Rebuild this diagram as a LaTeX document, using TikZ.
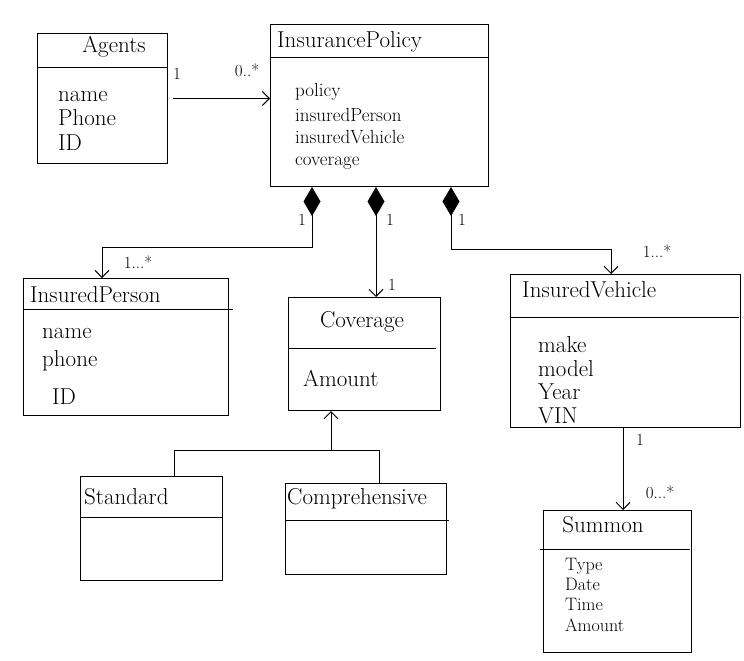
\documentclass[tikz,border=0pt]{standalone}
\usetikzlibrary{arrows.meta,calc}
\begin{document}
\begin{tikzpicture}[x=1pt,y=-1pt,
  box/.style={draw,line width=1pt,rectangle,anchor=north west,inner sep=0pt},
  title/.style={font=\fontsize{23}{26}\selectfont,inner sep=0pt},
  attr/.style={font=\fontsize{23}{26}\selectfont,anchor=base west,inner sep=0pt},
  pattr/.style={font=\fontsize{19}{22}\selectfont,anchor=base west,inner sep=0pt},
  sattr/.style={font=\fontsize{18}{20}\selectfont,anchor=base west,inner sep=0pt},
  mult/.style={font=\fontsize{17}{19}\selectfont,inner sep=0pt},
  conn/.style={line width=0.8pt},
  assoc/.style={conn,-{Straight Barb[length=7pt,width=14pt,line width=1pt]}},
  comp/.style={conn,{Diamond[length=29pt,width=17pt]}-{Straight Barb[length=7pt,width=14pt,line width=1pt]}}
]
\useasboundingbox (0,0) rectangle (744,661);

% boxes
\node[box,minimum width=130pt,minimum height=130pt] (agents) at (37,33) {};
\node[box,minimum width=218pt,minimum height=162pt] (policy) at (270,24) {};
\node[box,minimum width=205pt,minimum height=137pt] (person) at (23,278) {};
\node[box,minimum width=152pt,minimum height=113pt] (coverage) at (288,297) {};
\node[box,minimum width=230pt,minimum height=153pt] (vehicle) at (510,274) {};
\node[box,minimum width=142pt,minimum height=104pt] (standard) at (80,476) {};
\node[box,minimum width=161pt,minimum height=91pt] (compr) at (285,483) {};
\node[box,minimum width=148pt,minimum height=142pt] (summon) at (543,510) {};

% dividers
\draw[line width=1pt] (agents.west |- 0,68) -- (agents.east |- 0,68);
\draw[line width=1pt] (policy.west |- 0,58) -- (policy.east |- 0,58);
\draw[line width=1pt] (person.west |- 0,309) -- ([xshift=4pt]person.east |- 0,309);
\draw[line width=1pt] (coverage.west |- 0,348) -- ([xshift=-5pt]coverage.east |- 0,348);
\draw[line width=1pt] (vehicle.west |- 0,317) -- ([xshift=-2pt]vehicle.east |- 0,317);
\draw[line width=1pt] (standard.west |- 0,517) -- (standard.east |- 0,517);
\draw[line width=1pt] (compr.west |- 0,520) -- ([xshift=2pt]compr.east |- 0,520);
\draw[line width=1pt] ([xshift=-3pt]summon.west |- 0,549) -- ([xshift=-2pt]summon.east |- 0,549);

% titles
\node[title] (tAgents) at (114,47) {Agents};
\node[title,anchor=west] (tPolicy) at (277,42) {InsurancePolicy};
\node[title,anchor=west] (tPerson) at (30,295) {InsuredPerson};
\node[title] (tCoverage) at (362,322) {Coverage};
\node[title,anchor=west] (tVehicle) at (522,290) {InsuredVehicle};
\node[title,anchor=west] (tStandard) at (84,497) {Standard};
\node[title,anchor=west] (tCompr) at (287,499) {Comprehensive};
\node[title] (tSummon) at (603,525) {Summon};

% attributes
\node[attr] (a1) at (58,101) {name};
\node[attr] (a2) at (58,125) {Phone};
\node[attr] (a3) at (58,150) {ID};

\node[pattr] (p1) at (295,96) {policy};
\node[pattr] (p2) at (295,121) {insuredPerson};
\node[pattr] (p3) at (295,143) {insuredVehicle};
\node[pattr] (p4) at (295,165) {coverage};

\node[attr] (ip1) at (42,338) {name};
\node[attr] (ip2) at (42,366) {phone};
\node[attr] (ip3) at (52,404) {ID};

\node[attr] (c1) at (303,386) {Amount};

\node[attr] (v1) at (538,352) {make};
\node[attr] (v2) at (538,376) {model};
\node[attr] (v3) at (538,399) {Year};
\node[attr] (v4) at (538,423) {VIN};

\node[sattr] (s1) at (565,570) {Type};
\node[sattr] (s2) at (565,590) {Date};
\node[sattr] (s3) at (565,610) {Time};
\node[sattr] (s4) at (565,631) {Amount};

% connectors
\draw[assoc] ([xshift=5pt]agents.east) -- (policy.west |- agents.east);
\draw[comp] (policy.south -| 312,0) -- (312,247) -| (person.north -| 102,0);
\draw[comp] (policy.south -| 376,0) -- (coverage.north -| 376,0);
\draw[comp] (policy.south -| 451,0) -- (451,249) -| (vehicle.north -| 611,0);
\draw[conn] (standard.north -| 174,0) -- (174,450) -- (379,450) -- (compr.north -| 379,0);
\draw[assoc] (331,450) -- (coverage.south -| 331,0);
\draw[assoc] (vehicle.south -| 623,0) -- (summon.north -| 623,0);

% multiplicities
\node[mult] (m1) at (177,74) {1};
\node[mult] (m2) at (247,70) {0..*};
\node[mult] (m3) at (302,220) {1};
\node[mult] (m4) at (138,262) {1...*};
\node[mult] (m5) at (390,220) {1};
\node[mult] (m6) at (392,285) {1};
\node[mult] (m7) at (462,220) {1};
\node[mult] (m8) at (657,251) {1...*};
\node[mult] (m9) at (640,440) {1};
\node[mult] (m10) at (660,492) {0...*};
\end{tikzpicture}
\end{document}
